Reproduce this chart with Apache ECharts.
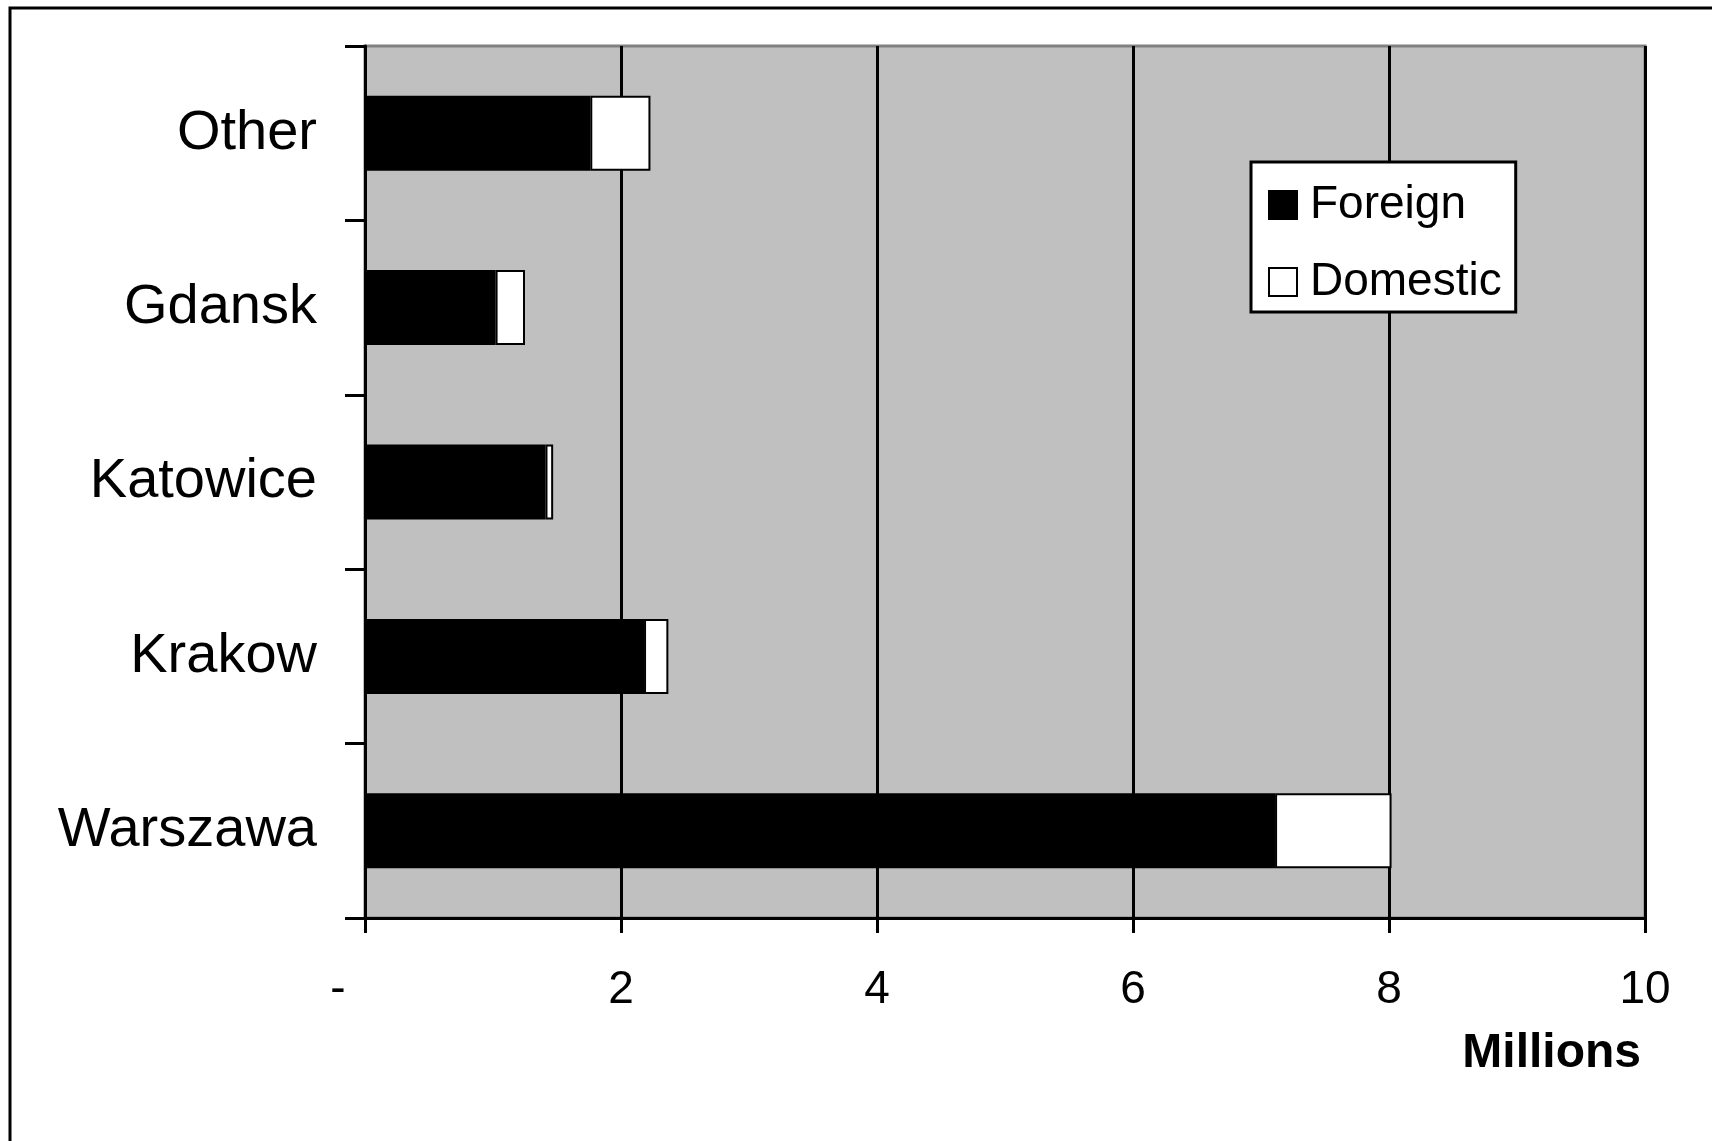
<!DOCTYPE html>
<html><head><meta charset="utf-8">
<script src="https://cdn.jsdelivr.net/npm/echarts@6/dist/echarts.min.js"></script>
<style>html,body{margin:0;padding:0;background:#fff}#c{width:1712px;height:1141px}</style>
</head><body><div id="c"></div>
<script>
const categories = ['Warszawa', 'Krakow', 'Katowice', 'Gdansk', 'Other'];
const foreign = [7.11, 2.18, 1.41, 1.02, 1.76];
const domestic = [0.91, 0.19, 0.06, 0.23, 0.47];
const xTicks = [0, 2, 4, 6, 8, 10];
const seriesNames = ['Foreign', 'Domestic'];
const axisName = 'Millions';

const FONT = '"Liberation Sans", Arial, sans-serif';
const chart = echarts.init(document.getElementById('c'), null, {renderer: 'canvas'});
chart.setOption({
  animation: false,
  backgroundColor: '#fff',
  grid: {left: 365, right: 67, top: 46, bottom: 223, show: true,
         backgroundColor: '#c0c0c0', borderColor: '#808080', borderWidth: 3},
  xAxis: {
    type: 'value', min: xTicks[0], max: xTicks[xTicks.length - 1], interval: 2,
    axisLine: {show: true, lineStyle: {color: '#000', width: 3}},
    axisTick: {show: true, length: 15, lineStyle: {color: '#000', width: 3}},
    splitLine: {show: true, lineStyle: {color: '#000', width: 3}},
    axisLabel: {
      margin: 49, color: '#000', fontSize: 46, fontFamily: FONT,
      formatter: v => v === 0 ? '{z|-}' : String(v),
      rich: {z: {fontSize: 46, fontFamily: FONT, color: '#000', padding: [0, 54, 0, 0]}}
    }
  },
  yAxis: {
    type: 'category', data: categories,
    axisLine: {show: true, lineStyle: {color: '#000', width: 3}},
    axisTick: {show: true, length: 20, lineStyle: {color: '#000', width: 3}},
    axisLabel: {margin: 48, color: '#000', fontSize: 56, fontFamily: FONT}
  },
  legend: {
    orient: 'vertical', left: 1251, top: 162,
    backgroundColor: '#fff', borderColor: '#000', borderWidth: 3,
    padding: [20, 14, 7, 17], itemGap: 31, itemWidth: 28, itemHeight: 28,
    icon: 'rect',
    textStyle: {fontSize: 46, fontFamily: FONT, color: '#000', lineHeight: 46, padding: [0, 0, 0, 8]},
    data: seriesNames
  },
  series: [
    {name: seriesNames[0], type: 'bar', stack: 't', data: foreign, barWidth: 75,
     itemStyle: {color: '#000', borderColor: '#000', borderWidth: 2}},
    {name: seriesNames[1], type: 'bar', stack: 't', data: domestic, barWidth: 75,
     itemStyle: {color: '#fff', borderColor: '#000', borderWidth: 2}}
  ],
  graphic: [
    {type: 'rect', shape: {x: 10, y: 8, width: 1800, height: 1300},
     style: {fill: 'none', stroke: '#000', lineWidth: 3}, silent: true, z: 100},
    {type: 'text', x: 1641, y: 1054,
     style: {text: axisName, fontSize: 48, fontWeight: 'bold', fontFamily: FONT,
             fill: '#000', textAlign: 'right', textVerticalAlign: 'middle'}}
  ]
});
</script></body></html>
